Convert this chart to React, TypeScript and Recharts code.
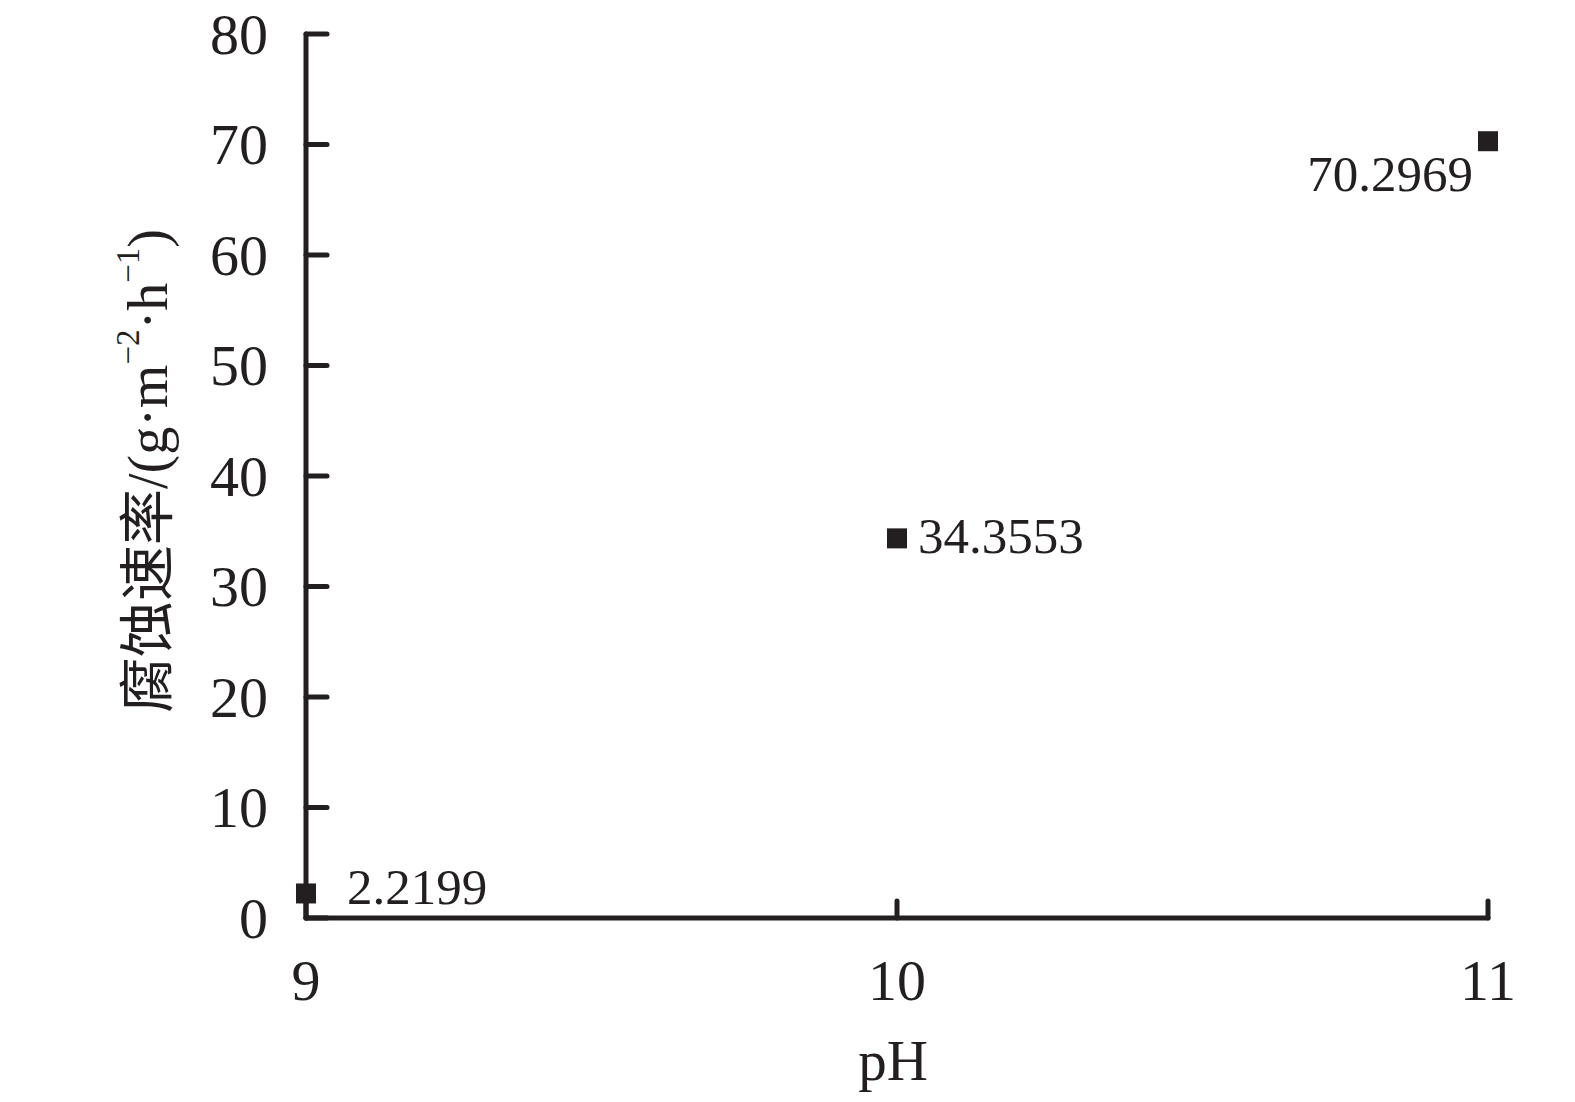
import { ScatterChart, Scatter, XAxis, YAxis } from "recharts"

const phValues = [9, 10, 11]
const corrosionRates = [2.2199, 34.3553, 70.2969]
const xTicks = [9, 10, 11]
const yTicks = [0, 10, 20, 30, 40, 50, 60, 70, 80]

const INK = "#231f20"
const SERIF = "'Liberation Serif', 'Times New Roman', 'Noto Sans CJK SC', serif"

// where each value label sits relative to its marker
const labelSpots = [
    { dx: 41, dy: 11, anchor: "start" },
    { dx: 21, dy: 15, anchor: "start" },
    { dx: -15, dy: 50, anchor: "end" },
]

const points = phValues.map((ph, i) => ({ x: ph, y: corrosionRates[i] }))

const SquareWithLabel = (props: any) => {
    const { cx, cy, payload } = props
    const i = phValues.indexOf(payload.x)
    const spot = labelSpots[i] || labelSpots[0]
    return (
        <g>
            <rect x={cx - 10} y={cy - 10} width={20} height={20} fill={INK} />
            <text
                x={cx + spot.dx}
                y={cy + spot.dy}
                textAnchor={spot.anchor as any}
                fontFamily={SERIF}
                fontSize={51}
                fill={INK}
            >
                {payload.y.toFixed(4)}
            </text>
        </g>
    )
}

const YTick = (props: any) => {
    const { x, y, payload } = props
    return (
        <g>
            <line x1={x} x2={x + 21} y1={y} y2={y} stroke={INK} strokeWidth={5} strokeLinecap="round" />
            <text x={x - 38} y={y} textAnchor="end" dominantBaseline="central" fontFamily={SERIF} fontSize={58} fill={INK}>
                {payload.value}
            </text>
        </g>
    )
}

const XTick = (props: any) => {
    const { x, y, payload } = props
    return (
        <g>
            <line x1={x} x2={x} y1={y} y2={y - 17} stroke={INK} strokeWidth={5} strokeLinecap="round" />
            <text x={x} y={y + 82} textAnchor="middle" fontFamily={SERIF} fontSize={58} fill={INK}>
                {payload.value}
            </text>
        </g>
    )
}

const YTitle = () => {
    const cx = 148
    const cy = 471
    return (
        <text
            x={cx}
            y={cy}
            transform={`rotate(-90, ${cx}, ${cy})`}
            textAnchor="middle"
            dominantBaseline="central"
            fontFamily={SERIF}
            fontSize={56}
            fill={INK}
        >
            腐蚀速率/(g·m
            <tspan dy={-20} fontSize={33}>−2</tspan>
            <tspan dy={20}>·h</tspan>
            <tspan dy={-20} fontSize={33}>−1</tspan>
            <tspan dy={20}>)</tspan>
        </text>
    )
}

const XTitle = () => {
    return (
        <text x={893} y={1080} textAnchor="middle" fontFamily={SERIF} fontSize={57} fill={INK}>
            pH
        </text>
    )
}

export default function App() {
    return (
        <div style={{ position: "absolute", left: 0, top: 0, background: "#fff" }}>
            <ScatterChart width={1575} height={1102} margin={{ top: 34, right: 87, left: 0, bottom: 0 }}>
                <XAxis
                    type="number"
                    dataKey="x"
                    domain={[9, 11]}
                    ticks={xTicks}
                    height={184}
                    axisLine={{ stroke: INK, strokeWidth: 5, strokeLinecap: "round" }}
                    tickLine={false}
                    tickSize={0}
                    tickMargin={0}
                    tick={<XTick />}
                    interval={0}
                    label={<XTitle />}
                />
                <YAxis
                    type="number"
                    dataKey="y"
                    domain={[0, 80]}
                    ticks={yTicks}
                    width={306}
                    axisLine={{ stroke: INK, strokeWidth: 5, strokeLinecap: "round" }}
                    tickLine={false}
                    tickSize={0}
                    tickMargin={0}
                    tick={<YTick />}
                    interval={0}
                    label={<YTitle />}
                />
                <Scatter data={points} shape={<SquareWithLabel />} isAnimationActive={false} />
            </ScatterChart>
        </div>
    )
}
